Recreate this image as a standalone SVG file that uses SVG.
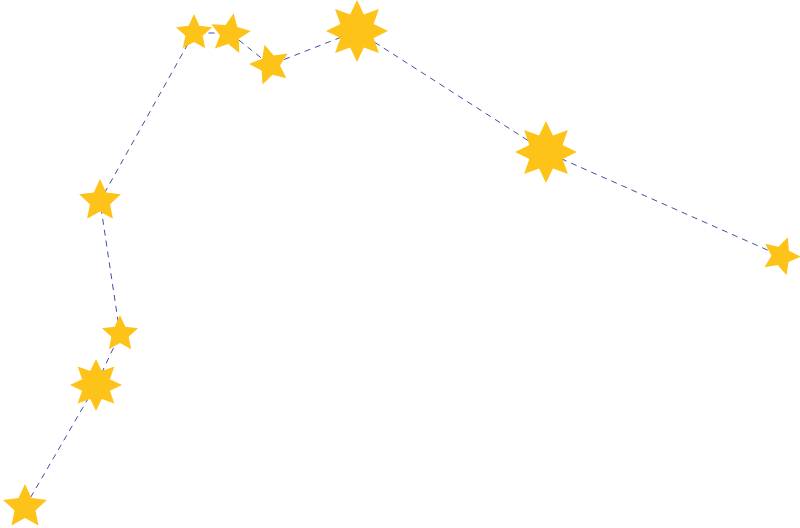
<svg xmlns="http://www.w3.org/2000/svg" xmlns:xlink="http://www.w3.org/1999/xlink" width="800" height="528" viewBox="0 0 800 528">
<style>.s{fill:#fdc319}.l{fill:none;stroke:#3f4fa8;stroke-width:1;stroke-dasharray:6 5}</style>
<defs>
<path id="s5" d="M0,-1L0.282,-0.388L0.951,-0.309L0.456,0.148L0.588,0.809L0,0.48L-0.588,0.809L-0.456,0.148L-0.951,-0.309L-0.282,-0.388Z"/>
<path id="s8" d="M0,-1L0.222,-0.536L0.707,-0.707L0.536,-0.222L1,0L0.536,0.222L0.707,0.707L0.222,0.536L0,1L-0.222,0.536L-0.707,0.707L-0.536,0.222L-1,0L-0.536,-0.222L-0.707,-0.707L-0.222,-0.536Z"/>
</defs>
<g id="connectors"><polyline class="l" points="25,507 96,385 120,334 100,201 194,33 230,33 270,65 357,31 546,152 781,256"/></g>
<g id="star1"><use class="s" xlink:href="#s5" transform="translate(25,507) scale(23)"/></g>
<g id="star2"><use class="s" xlink:href="#s8" transform="translate(96,385) scale(26)"/></g>
<g id="star3"><use class="s" xlink:href="#s5" transform="translate(120,334) scale(19)"/></g>
<g id="star4"><use class="s" xlink:href="#s5" transform="translate(100,201) scale(22)"/></g>
<g id="star5"><use class="s" xlink:href="#s5" transform="translate(194,33) scale(19)"/></g>
<g id="star6"><use class="s" xlink:href="#s5" transform="translate(230,34) rotate(10) scale(21)"/></g>
<g id="star7"><use class="s" xlink:href="#s5" transform="translate(270,65) rotate(-15) scale(21)"/></g>
<g id="star8"><use class="s" xlink:href="#s8" transform="translate(357,31) scale(31)"/></g>
<g id="star9"><use class="s" xlink:href="#s8" transform="translate(546,152) scale(31)"/></g>
<g id="star10"><use class="s" xlink:href="#s5" transform="translate(781,256) rotate(20) scale(20)"/></g>
</svg>
